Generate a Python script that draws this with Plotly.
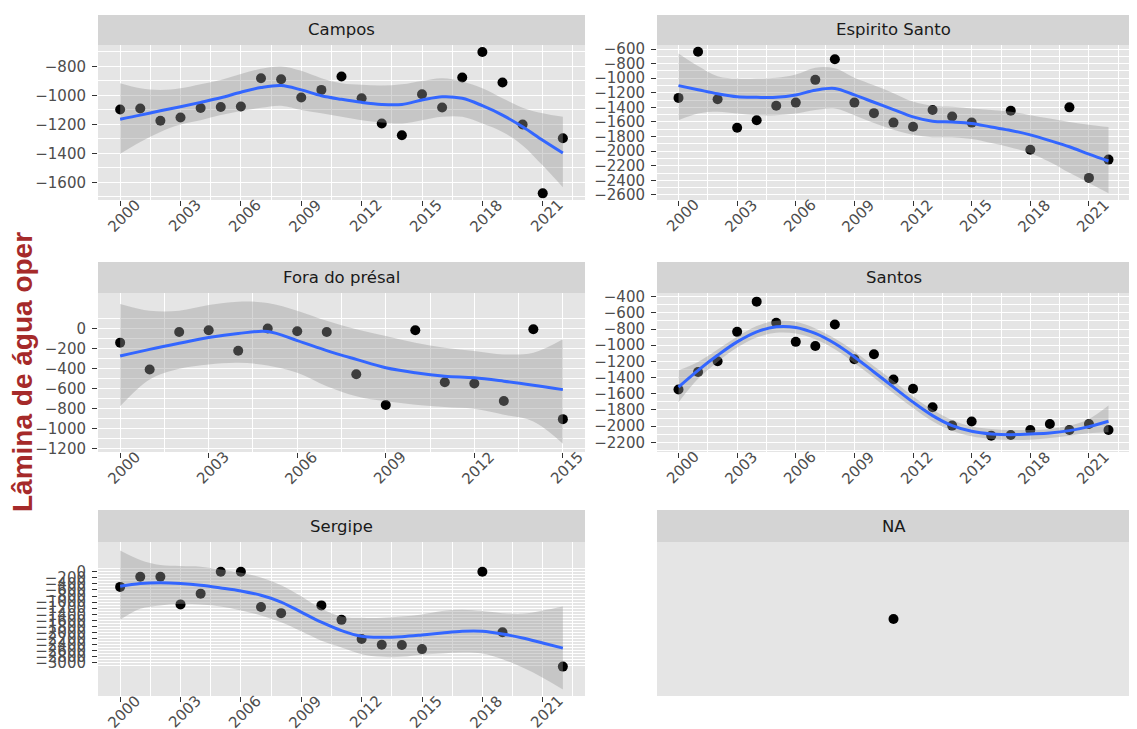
import plotly.graph_objects as go

# page body has an 8px margin: the figure is sized to fill the rest of the window
PAGE_W, PAGE_H, BODY_MARGIN = 1137, 729, 8
FIG_W, FIG_H = PAGE_W - BODY_MARGIN, PAGE_H - BODY_MARGIN

# ---------------- data ----------------
fit_years = list(range(2000, 2023))

campos_years = list(range(2000, 2023))
campos_vals = [-1097, -1090, -1175, -1152, -1087, -1080, -1076, -881, -888, -1015, -962, -870,
               -1020, -1194, -1275, -992, -1083, -876, -700, -911, -1201, -1676, -1296]
campos_fit = [-1164, -1136, -1106, -1078, -1048, -1016, -978, -946, -932, -962, -1002, -1027,
              -1048, -1062, -1062, -1032, -1009, -1020, -1071, -1136, -1217, -1310, -1398]
campos_hi = [-916, -951, -962, -951, -923, -893, -853, -816, -800, -830, -881, -916,
             -927, -932, -923, -900, -881, -904, -951, -1020, -1085, -1124, -1148]
campos_lo = [-1403, -1321, -1252, -1201, -1171, -1136, -1108, -1085, -1071, -1101, -1124, -1148,
             -1171, -1187, -1194, -1171, -1148, -1148, -1194, -1252, -1345, -1484, -1634]

es_years = [2000, 2001, 2002, 2003, 2004, 2005, 2006, 2007, 2008, 2009, 2010, 2011, 2012,
            2013, 2014, 2015, 2017, 2018, 2020, 2021, 2022]
es_vals = [-1270, -637, -1288, -1679, -1577, -1377, -1335, -1023, -740, -1335, -1479, -1609,
           -1665, -1437, -1526, -1609, -1447, -1981, -1400, -2367, -2116]
es_fit = [-1102, -1158, -1214, -1255, -1262, -1262, -1230, -1165, -1140, -1230, -1330, -1430,
          -1530, -1590, -1600, -1620, -1670, -1716, -1777, -1856, -1940, -2042, -2135]
es_hi = [-660, -833, -972, -1005, -1005, -995, -949, -856, -865, -995, -1098, -1205,
         -1321, -1377, -1391, -1414, -1437, -1460, -1507, -1553, -1600, -1637, -1670]
es_lo = [-1577, -1484, -1460, -1484, -1507, -1507, -1484, -1437, -1414, -1507, -1614, -1707,
         -1777, -1809, -1809, -1833, -1888, -1949, -2028, -2149, -2298, -2437, -2577]

fora_years = list(range(2000, 2016))
fora_vals = [-141, -409, -34, -17, -221, 0, -27, -34, -456, -764, -17, -536, -549, -724, -7, -905]
fora_fit = [-275, -208, -147, -90, -50, -30, -120, -220, -308, -392, -442, -476, -492, -526, -566, -610]
fora_hi = [245, 178, 178, 235, 268, 255, 178, 77, -7, -74, -141, -191, -224, -258, -241, -107]
fora_lo = [-777, -509, -402, -358, -342, -368, -442, -576, -677, -727, -760, -784, -801, -861, -928, -1150]

santos_years = list(range(2000, 2023))
santos_vals = [-1547, -1331, -1199, -835, -462, -723, -959, -1009, -744, -1174, -1112, -1423,
               -1538, -1766, -1994, -1944, -2118, -2110, -2048, -1973, -2048, -1973, -2048]
santos_fit = [-1518, -1311, -1125, -959, -835, -773, -781, -855, -980, -1145, -1331, -1518,
              -1704, -1870, -1994, -2064, -2097, -2106, -2097, -2085, -2056, -2006, -1940]
santos_hi = [-1311, -1207, -1054, -897, -764, -698, -711, -793, -918, -1075, -1261, -1443,
             -1634, -1799, -1924, -2006, -2035, -2048, -2048, -2035, -1994, -1911, -1745]
santos_lo = [-1704, -1414, -1207, -1029, -905, -847, -855, -926, -1050, -1220, -1402, -1593,
             -1775, -1940, -2056, -2126, -2159, -2172, -2168, -2147, -2118, -2089, -2077]

sergipe_years = [2000, 2001, 2002, 2003, 2004, 2005, 2006, 2007, 2008, 2010, 2011, 2012,
                 2013, 2014, 2015, 2018, 2019, 2022]
sergipe_vals = [-498, -166, -166, -1074, -720, 0, 0, -1162, -1362, -1107, -1583, -2214,
                -2402, -2413, -2546, 0, -1993, -3122]
sergipe_fit = [-476, -387, -365, -387, -443, -531, -631, -775, -996, -1328, -1661, -1937,
               -2125, -2159, -2137, -2081, -2015, -1959, -1959, -2048, -2181, -2347, -2513]
sergipe_hi = [697, 387, 221, 188, 166, 77, -33, -188, -443, -808, -1218, -1472,
              -1517, -1517, -1472, -1406, -1295, -1251, -1295, -1362, -1384, -1273, -1140]
sergipe_lo = [-1583, -1218, -1107, -1052, -1074, -1140, -1273, -1439, -1661, -1959, -2269, -2491,
              -2712, -2801, -2801, -2734, -2690, -2657, -2690, -2878, -3155, -3487, -3875]

na_x = [0]
na_y = [0]

xticks_long = [2000, 2003, 2006, 2009, 2012, 2015, 2018, 2021]
xticks_fora = [2000, 2003, 2006, 2009, 2012, 2015]
campos_yticks = [-1600, -1400, -1200, -1000, -800]
es_yticks = [-2600, -2400, -2200, -2000, -1800, -1600, -1400, -1200, -1000, -800, -600]
fora_yticks = [-1200, -1000, -800, -600, -400, -200, 0]
santos_yticks = [-2200, -2000, -1800, -1600, -1400, -1200, -1000, -800, -600, -400]
sergipe_yticks = [-3000, -2800, -2600, -2400, -2200, -2000, -1800, -1600, -1400, -1200,
                  -1000, -800, -600, -400, -200, 0]

# ---------------- geometry / style (window pixels) ----------------
COL = [(98, 585), (657, 1130)]
ROW_PANEL = [(45, 200), (293, 452), (542, 696)]
ROW_STRIP = [(15, 45), (262, 293), (510, 542)]

PANEL_BG = "#E5E5E5"
STRIP_BG = "#D4D4D4"
TICK_FONT = dict(family="DejaVu Sans, Verdana, sans-serif", size=15, color="#4D4D4D")
STRIP_FONT = dict(family="DejaVu Sans, Verdana, sans-serif", size=16.5, color="#1A1A1A")


def px_x(p):
    return (p - BODY_MARGIN) / FIG_W


def px_y(p):
    return 1 - (p - BODY_MARGIN) / FIG_H


def lab(v):
    return str(v).replace("-", "\u2212")


panels = [
    dict(name="Campos", col=0, row=0, x=campos_years, y=campos_vals, fit=campos_fit,
         hi=campos_hi, lo=campos_lo, fx=fit_years, xt=xticks_long, yt=campos_yticks,
         xr=[1998.9, 2023.1], yr=[-1722, -652]),
    dict(name="Espirito Santo", col=1, row=0, x=es_years, y=es_vals, fit=es_fit,
         hi=es_hi, lo=es_lo, fx=fit_years, xt=xticks_long, yt=es_yticks,
         xr=[1998.9, 2023.1], yr=[-2670, -545]),
    dict(name="Fora do présal", col=0, row=1, x=fora_years, y=fora_vals, fit=fora_fit,
         hi=fora_hi, lo=fora_lo, fx=fora_years, xt=xticks_fora, yt=fora_yticks,
         xr=[1999.25, 2015.75], yr=[-1233, 355]),
    dict(name="Santos", col=1, row=1, x=santos_years, y=santos_vals, fit=santos_fit,
         hi=santos_hi, lo=santos_lo, fx=fit_years, xt=xticks_long, yt=santos_yticks,
         xr=[1998.9, 2023.1], yr=[-2320, -355]),
    dict(name="Sergipe", col=0, row=2, x=sergipe_years, y=sergipe_vals, fit=sergipe_fit,
         hi=sergipe_hi, lo=sergipe_lo, fx=fit_years, xt=xticks_long, yt=sergipe_yticks,
         xr=[1998.9, 2023.1], yr=[-4090, 980]),
]

fig = go.Figure()
layout = dict(
    template="none",
    width=FIG_W, height=FIG_H, autosize=False,
    margin=dict(l=0, r=0, t=0, b=0, pad=0),
    paper_bgcolor="white", plot_bgcolor=PANEL_BG,
    showlegend=False, shapes=[], annotations=[],
    font=dict(family="DejaVu Sans, Verdana, sans-serif"),
)

for i, p in enumerate(panels + [dict(name="NA", col=1, row=2)]):
    k = "" if i == 0 else str(i + 1)
    xa, ya = "x" + k, "y" + k
    c0, c1 = COL[p["col"]]
    r0, r1 = ROW_PANEL[p["row"]]
    s0, s1 = ROW_STRIP[p["row"]]
    xdom = [px_x(c0), min(1.0, px_x(c1))]
    ydom = [px_y(r1), px_y(r0)]

    layout["shapes"].append(dict(type="rect", xref="paper", yref="paper",
                                 x0=xdom[0], x1=xdom[1], y0=px_y(s1), y1=px_y(s0),
                                 fillcolor=STRIP_BG, line=dict(width=0), layer="below"))
    layout["annotations"].append(dict(text=p["name"], xref="paper", yref="paper",
                                      x=(xdom[0] + xdom[1]) / 2, y=px_y((s0 + s1) / 2),
                                      xanchor="center", yanchor="middle", showarrow=False,
                                      font=STRIP_FONT))

    if p["name"] == "NA":
        fig.add_trace(go.Scatter(x=na_x, y=na_y, mode="markers", xaxis=xa, yaxis=ya,
                                 marker=dict(color="black", size=10), hoverinfo="skip"))
        layout["xaxis" + k] = dict(domain=xdom, anchor=ya, range=[na_x[0] - 1, na_x[0] + 1],
                                   showgrid=False, zeroline=False, showticklabels=False,
                                   ticks="", fixedrange=True, automargin=False, showline=False)
        layout["yaxis" + k] = dict(domain=ydom, anchor=xa, range=[na_y[0] - 1, na_y[0] + 1],
                                   showgrid=False, zeroline=False, showticklabels=False,
                                   ticks="", fixedrange=True, automargin=False, showline=False)
        continue

    # points (drawn first so the ribbon greys them, as in ggplot)
    fig.add_trace(go.Scatter(x=p["x"], y=p["y"], mode="markers", xaxis=xa, yaxis=ya,
                             marker=dict(color="black", size=10, line=dict(width=0)),
                             hoverinfo="skip"))
    # confidence ribbon
    fig.add_trace(go.Scatter(x=p["fx"], y=p["lo"], mode="lines", xaxis=xa, yaxis=ya,
                             line=dict(width=0, shape="spline", smoothing=1.0),
                             hoverinfo="skip"))
    fig.add_trace(go.Scatter(x=p["fx"], y=p["hi"], mode="lines", xaxis=xa, yaxis=ya,
                             line=dict(width=0, shape="spline", smoothing=1.0),
                             fill="tonexty", fillcolor="rgba(153,153,153,0.4)",
                             hoverinfo="skip"))
    # smooth line
    fig.add_trace(go.Scatter(x=p["fx"], y=p["fit"], mode="lines", xaxis=xa, yaxis=ya,
                             line=dict(color="#3366FF", width=3, shape="spline", smoothing=1.0),
                             hoverinfo="skip"))

    xt = p["xt"]
    step = xt[1] - xt[0]
    xminor = [t + step / 2 for t in [xt[0] - step] + xt]
    xminor = [v for v in xminor if p["xr"][0] < v < p["xr"][1]]
    yt = p["yt"]
    ystep = yt[1] - yt[0]
    yminor = [t + ystep / 2 for t in [yt[0] - ystep] + yt]
    yminor = [v for v in yminor if p["yr"][0] < v < p["yr"][1]]

    layout["xaxis" + k] = dict(
        domain=xdom, anchor=ya, range=p["xr"], tickmode="array",
        tickvals=xt, showticklabels=False,
        ticks="outside", ticklen=5, tickcolor="#333333", tickwidth=1,
        showgrid=True, gridcolor="white", gridwidth=1.2,
        zeroline=False, showline=False, fixedrange=True, automargin=False,
        minor=dict(tickmode="array", tickvals=xminor, showgrid=True,
                   gridcolor="white", gridwidth=0.6, ticks=""),
    )
    # rotated year labels centred under their ticks (ggplot angle = 45)
    for t in xt:
        layout["annotations"].append(dict(
            text=str(t), x=t, xref=xa, y=0, yref=ya + " domain",
            xanchor="center", yanchor="middle", xshift=4, yshift=-16,
            textangle=-45, showarrow=False, font=TICK_FONT))

    layout["yaxis" + k] = dict(
        domain=ydom, anchor=xa, range=p["yr"], tickmode="array",
        tickvals=yt, ticktext=[lab(t) for t in yt],
        ticks="outside", ticklen=5, tickcolor="#333333", tickwidth=1,
        ticklabelstandoff=3,
        tickfont=TICK_FONT, showgrid=True, gridcolor="white", gridwidth=1.2,
        zeroline=False, showline=False, fixedrange=True, automargin=False,
        minor=dict(tickmode="array", tickvals=yminor, showgrid=True,
                   gridcolor="white", gridwidth=0.6, ticks=""),
    )

layout["annotations"].append(dict(
    text="<b>Lâmina de água oper</b>", xref="paper", yref="paper",
    x=px_x(22), y=px_y(372), textangle=-90, showarrow=False,
    xanchor="center", yanchor="middle",
    font=dict(family="Liberation Sans, Arial, sans-serif", size=28, color="#A52A2A"),
))

fig.update_layout(**layout)
fig.write_html("out.html")
